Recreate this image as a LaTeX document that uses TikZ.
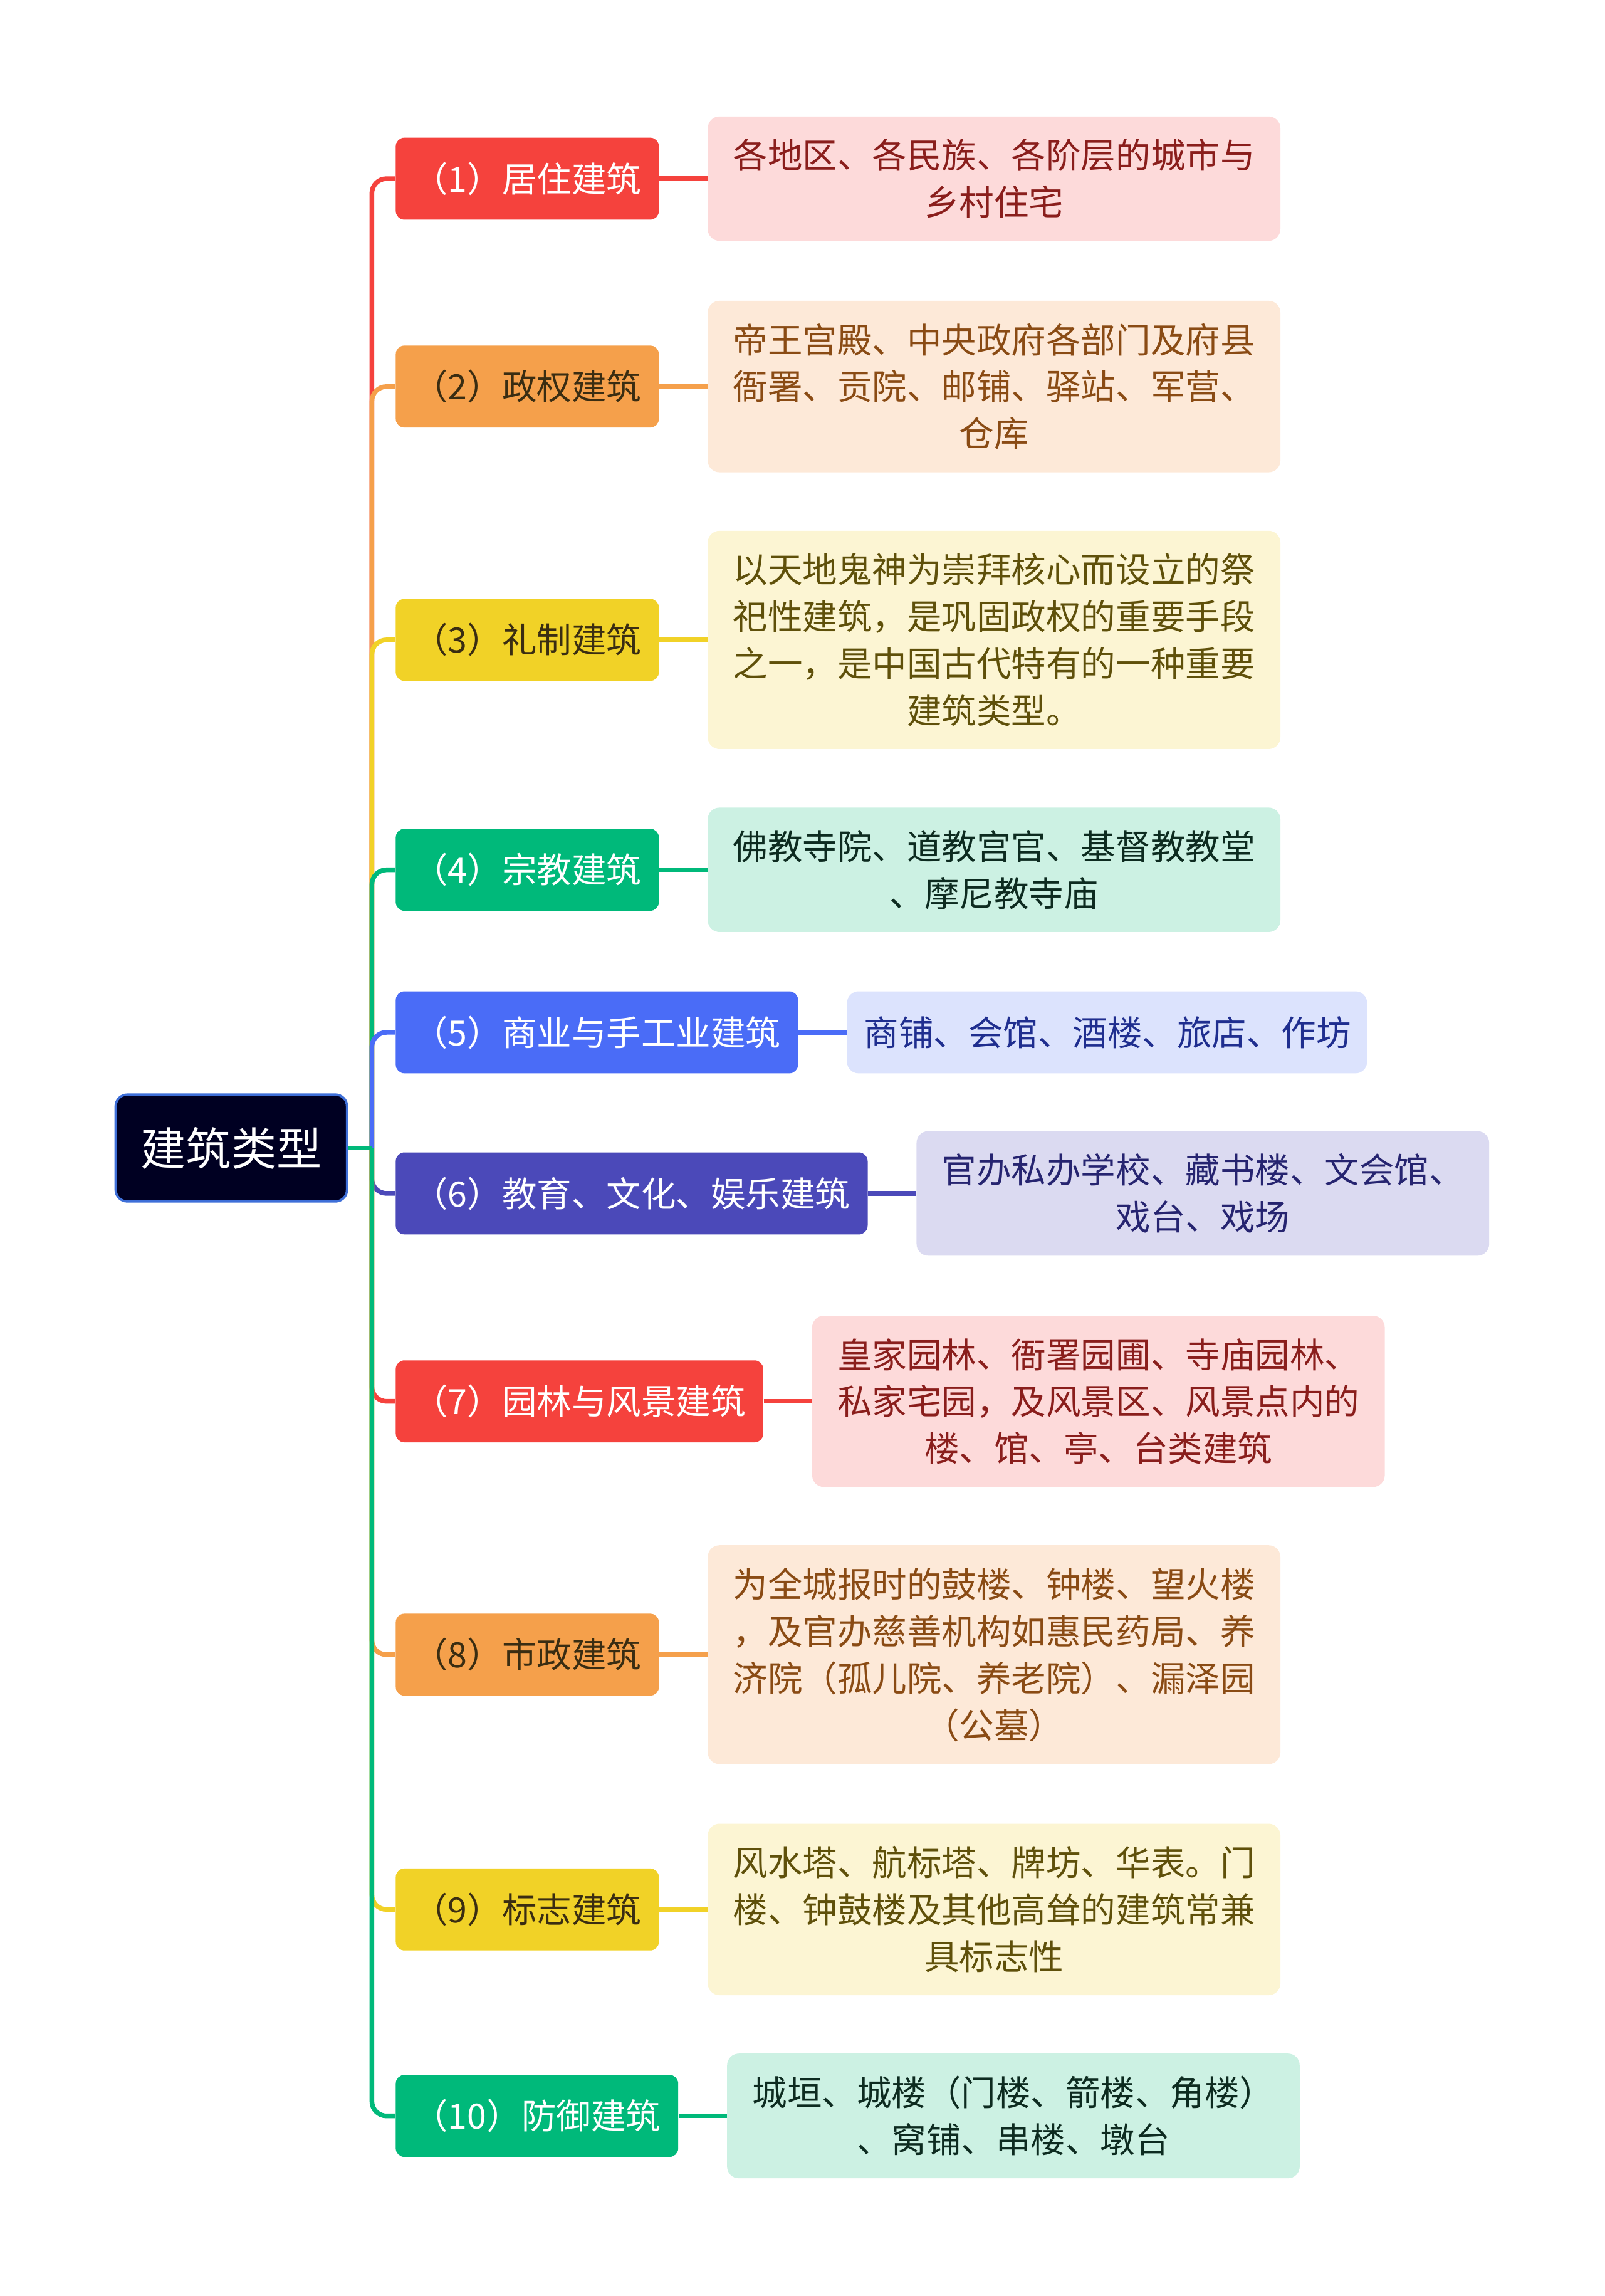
\documentclass[tikz,border=0pt]{standalone}
\usepackage{fontspec}
\setmainfont{Noto Sans CJK SC}
\usetikzlibrary{positioning}
%% branch colours
\definecolor{cRed}{HTML}{F5423D}
\definecolor{cOrange}{HTML}{F5A04B}
\definecolor{cYellow}{HTML}{F1D227}
\definecolor{cGreen}{HTML}{00B97A}
\definecolor{cBlue}{HTML}{4A6CF7}
\definecolor{cIndigo}{HTML}{4B49B9}
\definecolor{cDark}{HTML}{3A2D12}
\definecolor{cRoot}{HTML}{000022}
\definecolor{cRootLine}{HTML}{3E6FD8}
%% leaf colours
\definecolor{lPink}{HTML}{FDDADA}
\definecolor{lPeach}{HTML}{FDE9D8}
\definecolor{lYellow}{HTML}{FCF5D3}
\definecolor{lMint}{HTML}{CCF1E3}
\definecolor{lBlue}{HTML}{DCE3FD}
\definecolor{lLav}{HTML}{DBDAF1}
\definecolor{tPink}{HTML}{8A1E1C}
\definecolor{tPeach}{HTML}{8A4B14}
\definecolor{tYellow}{HTML}{5F500A}
\definecolor{tMint}{HTML}{0D2B20}
\definecolor{tBlue}{HTML}{1F2E8F}
\definecolor{tLav}{HTML}{262470}
\begin{document}
\begin{tikzpicture}[x=0.025cm,y=-0.025cm,
  root/.style={fill=cRoot,draw=cRootLine,line width=0.04cm,rounded corners=0.2cm,
    text=white,minimum width=3.95cm,minimum height=1.825cm,
    font=\fontsize{22pt}{26pt}\selectfont},
  branch/.style={rounded corners=0.15cm,anchor=west,minimum height=1.4cm,
    inner xsep=0.3cm,inner ysep=0pt,font=\fontsize{16.9pt}{22.8pt}\selectfont},
  leaf/.style={rounded corners=0.2cm,align=center,minimum height=1.4cm,
    inner ysep=0.385cm,font=\fontsize{16.9pt}{22.8pt}\selectfont},
  conn/.style={line width=0.08cm,rounded corners=0.25cm}]
\useasboundingbox (0,0) rectangle (1096,1568);
%% root + junction on the spine
\node[root] (root) at (158,784) {建筑类型};
\coordinate (jn) at (254,784);
%% branches, leaves and their connectors
\foreach \i/\yy/\bc/\tc/\lc/\ltc/\tw/\xs/\lbl/\txt in {
  1/122/cRed/white/lPink/tPink/8.925cm/0.425cm/{（1）居住建筑}/{各地区、各民族、各阶层的城市与\\乡村住宅},
  2/264/cOrange/cDark/lPeach/tPeach/8.925cm/0.425cm/{（2）政权建筑}/{帝王宫殿、中央政府各部门及府县\\衙署、贡院、邮铺、驿站、军营、\\仓库},
  3/437/cYellow/cDark/lYellow/tYellow/8.925cm/0.425cm/{（3）礼制建筑}/{以天地鬼神为崇拜核心而设立的祭\\祀性建筑，是巩固政权的重要手段\\之一，是中国古代特有的一种重要\\建筑类型。},
  4/594/cGreen/white/lMint/tMint/8.925cm/0.425cm/{（4）宗教建筑}/{佛教寺院、道教宫官、基督教教堂\\、摩尼教寺庙},
  5/705/cBlue/white/lBlue/tBlue/8.3cm/0.29cm/{（5）商业与手工业建筑}/{商铺、会馆、酒楼、旅店、作坊},
  6/815/cIndigo/white/lLav/tLav/8.925cm/0.425cm/{（6）教育、文化、娱乐建筑}/{官办私办学校、藏书楼、文会馆、\\戏台、戏场},
  7/957/cRed/white/lPink/tPink/8.925cm/0.425cm/{（7）园林与风景建筑}/{皇家园林、衙署园圃、寺庙园林、\\私家宅园，及风景区、风景点内的\\楼、馆、亭、台类建筑},
  8/1130/cOrange/cDark/lPeach/tPeach/8.925cm/0.425cm/{（8）市政建筑}/{为全城报时的鼓楼、钟楼、望火楼\\，及官办慈善机构如惠民药局、养\\济院（孤儿院、养老院）、漏泽园\\（公墓）},
  9/1304/cYellow/cDark/lYellow/tYellow/8.925cm/0.425cm/{（9）标志建筑}/{风水塔、航标塔、牌坊、华表。门\\楼、钟鼓楼及其他高耸的建筑常兼\\具标志性},
  10/1445/cGreen/white/lMint/tMint/8.925cm/0.425cm/{（10）防御建筑}/{城垣、城楼（门楼、箭楼、角楼）\\、窝铺、串楼、墩台}} {
  \node[branch,fill=\bc,text=\tc] (b\i) at (270,\yy) {\lbl};
  \node[leaf,fill=\lc,text=\ltc,text width=\tw,inner xsep=\xs,right=0.82cm of b\i] (l\i) {\txt};
  \draw[conn,draw=\bc] (jn) |- (b\i.west);
  \draw[conn,draw=\bc] (b\i) -- (l\i);
}
\draw[conn,draw=cGreen] (root.east) -- (jn);
\end{tikzpicture}
\end{document}
